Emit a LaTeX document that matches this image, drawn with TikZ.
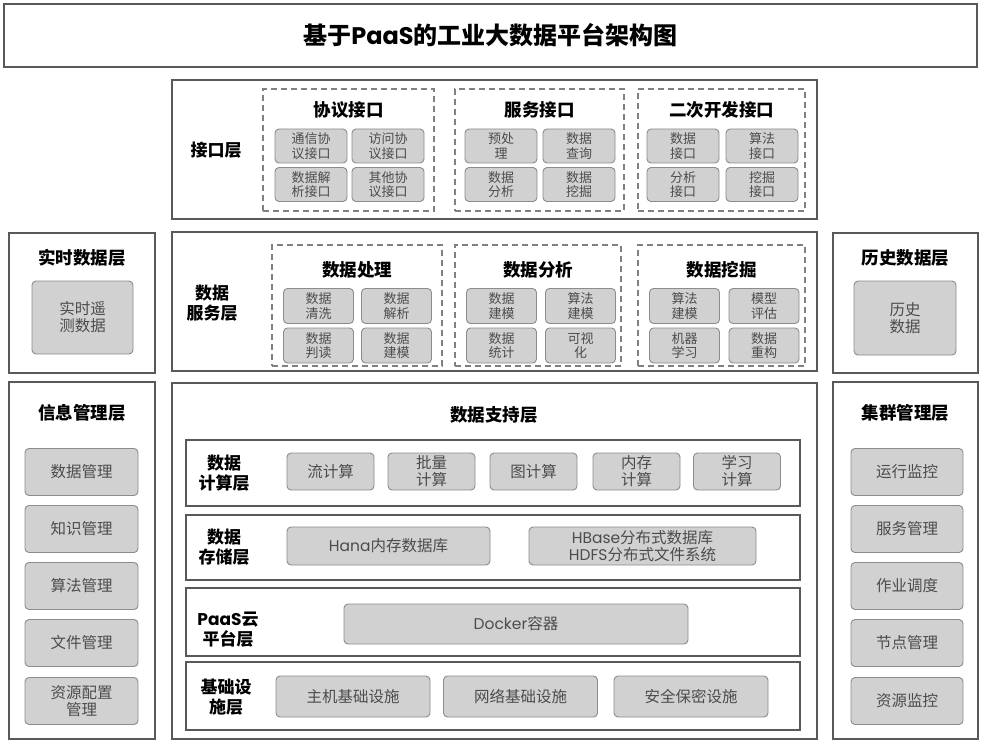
\documentclass[tikz,border=0pt]{standalone}
\usepackage{fontspec}
\setmainfont{Noto Sans CJK SC}
\newfontfamily\poppins{Poppins}
\usetikzlibrary{calc}

\begin{document}
\begin{tikzpicture}[x = 1pt, y = -1pt,
    layer/.style = {draw = black!65, line width = 1.6pt, inner sep = 0pt},
    group/.style = {draw = black!50, line width = 1.4pt, dash pattern = on 6pt off 4pt, inner sep = 0pt},
    item/.style = {draw = black!45, fill = black!18, rounded corners = 4pt, line width = 0.9pt,
        text = black!70, align = center, inner sep = 0pt, font = \fontsize{13}{14.5}\selectfont},
    big/.style = {font = \fontsize{15.5}{17}\selectfont},
    ttl/.style = {font = \fontsize{17.5}{20}\selectfont\bfseries, align = center, inner sep = 0pt},
    lbl/.style = {font = \fontsize{17}{20}\selectfont\bfseries, align = center, inner sep = 0pt},
  ]
        \path[fill = white](0,0)rectangle(981,743);
        \useasboundingbox(0,0)rectangle(981,743);
        % title
        \node[layer, minimum width = 973, minimum height = 63, font = \fontsize{24}{26}\selectfont\bfseries](title)at(490.5,35.5){基于{\poppins PaaS}的工业大数据平台架构图};
        % left: realtime data
        \node[layer, minimum width = 146, minimum height = 140](rt)at(82,303){};
        \node[ttl](rt-t)at(82,258){实时数据层};
        \node[item, big, minimum width = 101, minimum height = 73](rt-1)at(82.5,317.5){实时遥\\测数据};
        % left: info management
        \node[layer, minimum width = 146, minimum height = 357](info)at(82,560.5){};
        \node[ttl](info-t)at(82,413){信息管理层};
        \node[item, big, minimum width = 113, minimum height = 47](info-1)at(81.5,472){数据管理};
        \node[item, big, minimum width = 113, minimum height = 47](info-2)at(81.5,529){知识管理};
        \node[item, big, minimum width = 113, minimum height = 47](info-3)at(81.5,586){算法管理};
        \node[item, big, minimum width = 113, minimum height = 47](info-4)at(81.5,643){文件管理};
        \node[item, big, minimum width = 113, minimum height = 47](info-5)at(81.5,701){资源配置\\管理};
        % right: history data
        \node[layer, minimum width = 145, minimum height = 140](his)at(905.5,303){};
        \node[ttl](his-t)at(905.5,258){历史数据层};
        \node[item, big, minimum width = 102, minimum height = 74](his-1)at(905,318){历史\\数据};
        % right: cluster management
        \node[layer, minimum width = 145, minimum height = 357](clu)at(905.5,560.5){};
        \node[ttl](clu-t)at(905.5,413){集群管理层};
        \node[item, big, minimum width = 112, minimum height = 47](clu-1)at(907,472){运行监控};
        \node[item, big, minimum width = 112, minimum height = 47](clu-2)at(907,529){服务管理};
        \node[item, big, minimum width = 112, minimum height = 47](clu-3)at(907,586){作业调度};
        \node[item, big, minimum width = 112, minimum height = 47](clu-4)at(907,643){节点管理};
        \node[item, big, minimum width = 112, minimum height = 47](clu-5)at(907,701){资源监控};
        % interface layer
        \node[layer, minimum width = 645, minimum height = 139](api)at(494.5,149.5){};
        \node[lbl](api-l)at(216,150){接口层};
        \node[group, minimum width = 171, minimum height = 122](api-a)at(348.5,150){};
        \node[group, minimum width = 169, minimum height = 122](api-b)at(539.5,150){};
        \node[group, minimum width = 167, minimum height = 122](api-c)at(721.5,150){};
        \node[ttl](api-at)at(348.5,110){协议接口};
        \node[ttl](api-bt)at(539.5,110){服务接口};
        \node[ttl](api-ct)at(721.5,110){二次开发接口};
        \node[item, minimum width = 72, minimum height = 34](a1)at(311,146){通信协\\议接口};
        \node[item, minimum width = 72, minimum height = 34](a2)at(388,146){访问协\\议接口};
        \node[item, minimum width = 72, minimum height = 34](a3)at(311,184.5){数据解\\析接口};
        \node[item, minimum width = 72, minimum height = 34](a4)at(388,184.5){其他协\\议接口};
        \node[item, minimum width = 72, minimum height = 34](b1)at(501,146){预处\\理};
        \node[item, minimum width = 72, minimum height = 34](b2)at(579,146){数据\\查询};
        \node[item, minimum width = 72, minimum height = 34](b3)at(501,184.5){数据\\分析};
        \node[item, minimum width = 72, minimum height = 34](b4)at(579,184.5){数据\\挖掘};
        \node[item, minimum width = 72, minimum height = 34](c1)at(683,146){数据\\接口};
        \node[item, minimum width = 72, minimum height = 34](c2)at(762,146){算法\\接口};
        \node[item, minimum width = 72, minimum height = 34](c3)at(683,184.5){分析\\接口};
        \node[item, minimum width = 72, minimum height = 34](c4)at(762,184.5){挖掘\\接口};
        % data service layer
        \node[layer, minimum width = 645, minimum height = 139](srv)at(494.5,301.5){};
        \node[lbl](srv-l)at(212,303){数据\\服务层};
        \node[group, minimum width = 170, minimum height = 121](srv-a)at(357,305.5){};
        \node[group, minimum width = 166, minimum height = 121](srv-b)at(538,305.5){};
        \node[group, minimum width = 167, minimum height = 121](srv-c)at(721.5,305.5){};
        \node[ttl](srv-at)at(357,270){数据处理};
        \node[ttl](srv-bt)at(538,270){数据分析};
        \node[ttl](srv-ct)at(721.5,270){数据挖掘};
        \node[item, minimum width = 70, minimum height = 35](d1)at(318.5,306){数据\\清洗};
        \node[item, minimum width = 70, minimum height = 35](d2)at(396.5,306){数据\\解析};
        \node[item, minimum width = 70, minimum height = 35](d3)at(318.5,345.5){数据\\判读};
        \node[item, minimum width = 70, minimum height = 35](d4)at(396.5,345.5){数据\\建模};
        \node[item, minimum width = 70, minimum height = 35](e1)at(501.5,306){数据\\建模};
        \node[item, minimum width = 70, minimum height = 35](e2)at(580.5,306){算法\\建模};
        \node[item, minimum width = 70, minimum height = 35](e3)at(501.5,345.5){数据\\统计};
        \node[item, minimum width = 70, minimum height = 35](e4)at(580.5,345.5){可视\\化};
        \node[item, minimum width = 70, minimum height = 35](f1)at(684.5,306){算法\\建模};
        \node[item, minimum width = 70, minimum height = 35](f2)at(764,306){模型\\评估};
        \node[item, minimum width = 70, minimum height = 35](f3)at(684.5,345.5){机器\\学习};
        \node[item, minimum width = 70, minimum height = 35](f4)at(764,345.5){数据\\重构};
        % data support layer
        \node[layer, minimum width = 645, minimum height = 356](sup)at(494.5,561){};
        \node[ttl](sup-t)at(494,415){数据支持层};
        % 计算
        \node[layer, minimum width = 614, minimum height = 66](calc)at(493,473){};
        \node[lbl](calc-l)at(224,473){数据\\计算层};
        \node[item, big, minimum width = 87, minimum height = 37](g1)at(330.5,471.5){流计算};
        \node[item, big, minimum width = 87, minimum height = 37](g2)at(431.5,471.5){批量\\计算};
        \node[item, big, minimum width = 87, minimum height = 37](g3)at(533.5,471.5){图计算};
        \node[item, big, minimum width = 87, minimum height = 37](g4)at(636.5,471.5){内存\\计算};
        \node[item, big, minimum width = 87, minimum height = 37](g5)at(737,471.5){学习\\计算};
        % 存储
        \node[layer, minimum width = 614, minimum height = 65](store)at(493,547.5){};
        \node[lbl](store-l)at(224,547){数据\\存储层};
        \node[item, big, minimum width = 203, minimum height = 38](h1)at(388.5,546){{\poppins Hana}内存数据库};
        \node[item, big, minimum width = 227, minimum height = 38](h2)at(642.5,546){{\poppins HBase}分布式数据库\\{\poppins HDFS}分布式文件系统};
        % PaaS
        \node[layer, minimum width = 614, minimum height = 68](paas)at(493,622){};
        \node[lbl](paas-l)at(228,630){{\poppins PaaS}云\\平台层};
        \node[item, big, minimum width = 344, minimum height = 40](docker)at(516,624){{\poppins Docker}容器};
        % 基础设施
        \node[layer, minimum width = 614, minimum height = 68](infra)at(493,696){};
        \node[lbl](infra-l)at(226,697){基础设\\施层};
        \node[item, big, minimum width = 154, minimum height = 41](k1)at(353,696.5){主机基础设施};
        \node[item, big, minimum width = 154, minimum height = 41](k2)at(520.5,696.5){网络基础设施};
        \node[item, big, minimum width = 154, minimum height = 41](k3)at(691,696.5){安全保密设施};
    \end{tikzpicture}
\end{document}
